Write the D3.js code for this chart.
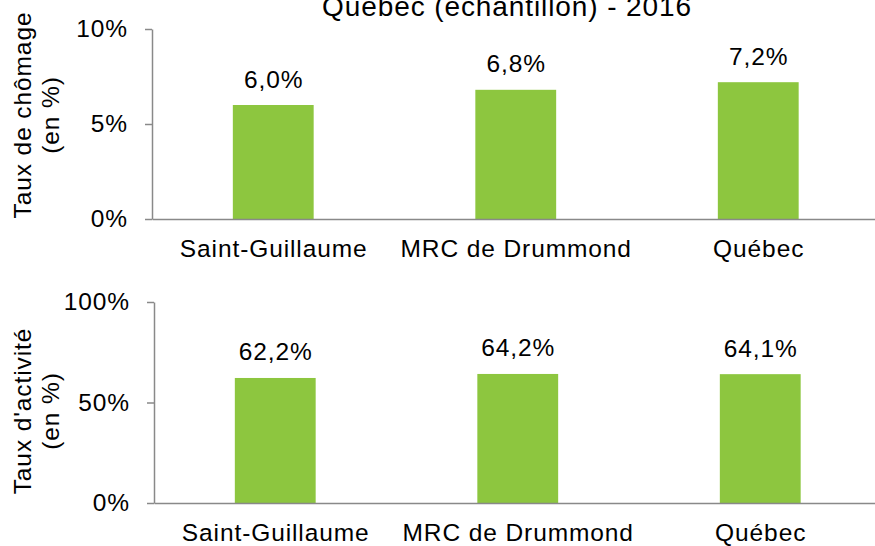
<!DOCTYPE html>
<html>
<head>
<meta charset="utf-8">
<script src="https://cdn.jsdelivr.net/npm/d3@7"></script>
<style>
    body { margin: 0; background: #fff; }
    text { font-family: "Liberation Sans", Arial, sans-serif; fill: #000; }
</style>
</head>
<body>
<div id="wrapper"></div>
<script>
const categories = ["Saint-Guillaume", "MRC de Drummond", "Québec"];
const chomageValues = [6.0, 6.8, 7.2];
const activiteValues = [62.2, 64.2, 64.1];
const chomageTicks = [0, 5, 10];
const activiteTicks = [0, 50, 100];
const chartTitle = "Québec (échantillon) - 2016";

const frLocale = d3.formatLocale({ decimal: ",", thousands: " ", grouping: [3], currency: ["", " $"] });
const valueFormat = v => frLocale.format(".1f")(v) + "%";

const dimensions = { width: 875, height: 546 };
const fontSize = 24.5;
const spacing = 0.9;
const axisColor = "#898989";
const barColor = "#8dc63f";

const svg = d3.select("#wrapper")
    .append("svg")
    .attr("width", dimensions.width)
    .attr("height", dimensions.height);

// titre, coupé en haut comme dans l'original
svg.append("text")
    .attr("x", 507)
    .attr("y", 16)
    .attr("text-anchor", "middle")
    .attr("font-size", "28px")
    .attr("letter-spacing", "0.9px")
    .text(chartTitle);

function drawPanel(opts) {
    const xScaler = d3.scaleBand()
        .domain(categories)
        .range([opts.left, opts.right])
        .paddingInner(2 / 3)
        .paddingOuter(1 / 3);

    const yScaler = d3.scaleLinear()
        .domain([0, d3.max(opts.ticks)])
        .range([opts.bottom, opts.top]);

    const g = svg.append("g");

    g.selectAll("rect")
        .data(opts.values)
        .enter()
        .append("rect")
        .attr("x", (d, i) => xScaler(categories[i]))
        .attr("y", d => yScaler(d))
        .attr("width", xScaler.bandwidth())
        .attr("height", d => opts.bottom - yScaler(d))
        .attr("fill", barColor);

    g.selectAll(".val")
        .data(opts.values)
        .enter()
        .append("text")
        .attr("class", "val")
        .attr("x", (d, i) => xScaler(categories[i]) + xScaler.bandwidth() / 2 + spacing / 2)
        .attr("y", d => yScaler(d) - 17.5)
        .attr("text-anchor", "middle")
        .attr("font-size", fontSize + "px")
        .attr("letter-spacing", spacing + "px")
        .text(d => valueFormat(d));

    const yAxis = g.append("g")
        .attr("transform", `translate(${opts.left},0)`)
        .call(d3.axisLeft(yScaler)
            .tickValues(opts.ticks)
            .tickSize(7)
            .tickSizeOuter(0)
            .tickPadding(17)
            .tickFormat(d => d + "%"));
    yAxis.select(".domain").attr("stroke", axisColor).attr("stroke-width", 1.5);
    yAxis.selectAll(".tick line").attr("stroke", axisColor).attr("stroke-width", 1.5);
    yAxis.selectAll(".tick text")
        .attr("font-size", fontSize + "px")
        .attr("letter-spacing", spacing + "px")
        .attr("fill", "#000");
    yAxis.attr("font-family", null).attr("font-size", null);

    const xAxis = g.append("g")
        .attr("transform", `translate(0,${opts.bottom})`)
        .call(d3.axisBottom(xScaler).tickSize(0).tickSizeOuter(0));
    xAxis.select(".domain").attr("stroke", axisColor).attr("stroke-width", 1.5);
    xAxis.selectAll(".tick text")
        .attr("y", 38)
        .attr("dy", null)
        .attr("x", spacing / 2)
        .attr("font-size", fontSize + "px")
        .attr("letter-spacing", spacing + "px")
        .attr("fill", "#000");
    xAxis.attr("font-family", null).attr("font-size", null);

    const label = g.append("text")
        .attr("transform", `translate(0,${opts.labelY}) rotate(-90)`)
        .attr("text-anchor", "middle")
        .attr("font-size", fontSize + "px")
        .attr("letter-spacing", spacing + "px");
    label.append("tspan").attr("x", 0).attr("y", 31).text(opts.label[0]);
    label.append("tspan").attr("x", 0).attr("y", 59).text(opts.label[1]);
}

drawPanel({
    values: chomageValues,
    ticks: chomageTicks,
    left: 152, right: 879.5,
    top: 29, bottom: 219,
    labelY: 115,
    label: ["Taux de chômage", "(en %)"]
});

drawPanel({
    values: activiteValues,
    ticks: activiteTicks,
    left: 154, right: 881.5,
    top: 302, bottom: 503,
    labelY: 411,
    label: ["Taux d'activité", "(en %)"]
});
</script>
</body>
</html>
